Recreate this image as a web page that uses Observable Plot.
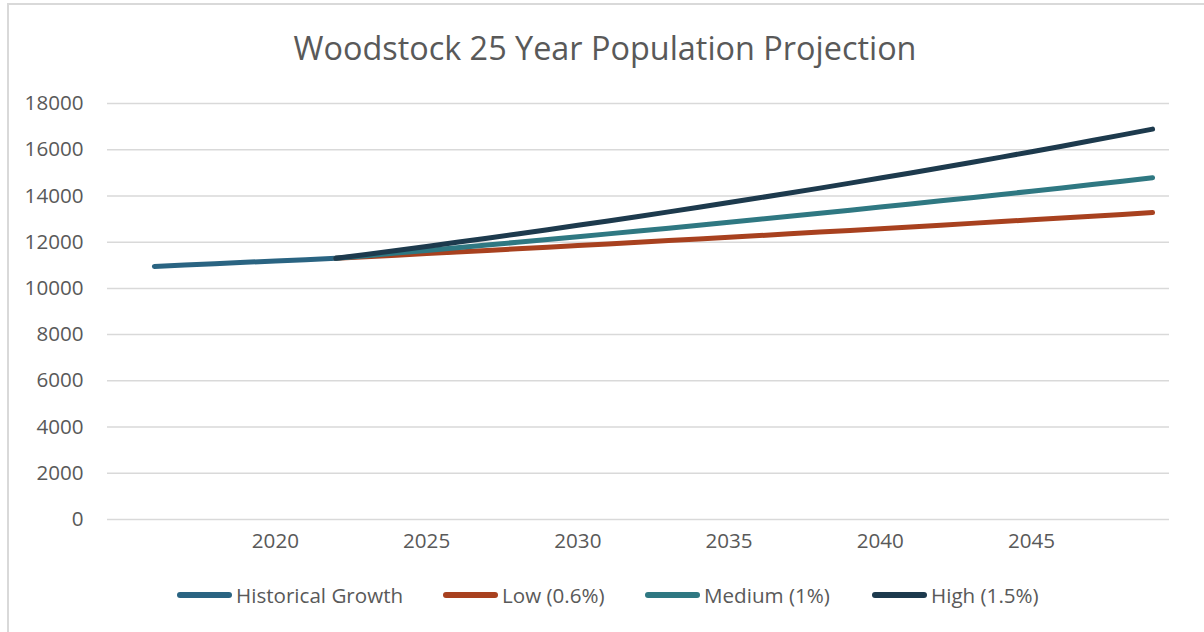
<!DOCTYPE html>
<html>
<head>
<meta charset="utf-8">
<script src="https://cdn.jsdelivr.net/npm/d3@7"></script>
<script src="https://cdn.jsdelivr.net/npm/@observablehq/plot@0.6"></script>
<style>
  html, body { margin: 0; padding: 0; background: #fff; overflow: hidden; }
  #wrap { position: relative; width: 1204px; height: 632px; overflow: hidden; font-family: "Open Sans", sans-serif; color: #595959; }
  #frame { position: absolute; left: 7px; top: 3px; width: 1400px; height: 1000px; border-left: 2px solid #d9d9d9; border-top: 2px solid #d9d9d9; box-sizing: border-box; }
  #title { position: absolute; left: 0; width: 1210px; top: 23px; text-align: center; font-size: 32.4px; line-height: 48px; white-space: nowrap; }
  #legend { position: absolute; top: 580px; left: 0; width: 1204px; height: 30px; }
  .item { position: absolute; top: 0; display: flex; align-items: center; height: 30px; font-size: 20.6px; white-space: nowrap; }
  .sw { width: 55px; height: 6px; border-radius: 3px; margin-right: 4px; }
  #chart { position: absolute; left: 0; top: 0; }
</style>
</head>
<body>
<div id="wrap">
  <div id="chart"></div>
  <div id="frame"></div>
  <div id="title">Woodstock 25 Year Population Projection</div>
  <div id="legend"></div>
</div>
<script>
const seriesNames = ["Historical Growth", "Low (0.6%)", "Medium (1%)", "High (1.5%)"];
const seriesColors = ["#2A6482", "#A8411F", "#2F7882", "#1D3A4D"];

const historicalYears = [2016, 2017, 2018, 2019, 2020, 2021, 2022];
const historical = [10950, 11010, 11070, 11130, 11180, 11240, 11300];

const projectionYears = [2022, 2023, 2024, 2025, 2026, 2027, 2028, 2029, 2030, 2031, 2032, 2033, 2034, 2035,
  2036, 2037, 2038, 2039, 2040, 2041, 2042, 2043, 2044, 2045, 2046, 2047, 2048, 2049];
const low = [11300, 11368, 11436, 11505, 11574, 11643, 11713, 11783, 11854, 11925, 11997, 12069, 12141, 12214,
  12287, 12361, 12435, 12510, 12585, 12660, 12736, 12813, 12890, 12967, 13045, 13123, 13202, 13281];
const medium = [11300, 11413, 11527, 11642, 11759, 11876, 11995, 12115, 12236, 12359, 12482, 12607, 12733, 12860,
  12989, 13119, 13250, 13383, 13517, 13652, 13788, 13926, 14065, 14206, 14348, 14491, 14636, 14783];
const high = [11300, 11470, 11641, 11816, 11993, 12173, 12356, 12541, 12729, 12920, 13114, 13311, 13510, 13713,
  13919, 14127, 14339, 14554, 14773, 14994, 15219, 15448, 15679, 15915, 16153, 16396, 16642, 16891];

const xTicks = [2020, 2025, 2030, 2035, 2040, 2045];
const yTicks = [0, 2000, 4000, 6000, 8000, 10000, 12000, 14000, 16000, 18000];

const rows = [];
historicalYears.forEach((y, i) => rows.push({series: seriesNames[0], year: y, value: historical[i]}));
[low, medium, high].forEach((arr, k) => projectionYears.forEach((y, i) => rows.push({series: seriesNames[k + 1], year: y, value: arr[i]})));

const chart = Plot.plot({
  width: 1204,
  height: 632,
  marginTop: 103,
  marginBottom: 113,
  marginLeft: 107,
  marginRight: 35,
  style: {fontFamily: "Open Sans, sans-serif", fontSize: "20.6px", color: "#595959", background: "transparent"},
  x: {domain: [2014.45, 2049.56], ticks: xTicks, tickFormat: d => String(d), tickSize: 0, tickPadding: 15, label: null},
  y: {domain: [0, 18000], ticks: yTicks, tickFormat: d => String(d), tickSize: 0, tickPadding: 24, label: null},
  color: {domain: seriesNames, range: seriesColors},
  marks: [
    Plot.gridY(yTicks, {stroke: "#d9d9d9", strokeOpacity: 1, strokeWidth: 1.5}),
    Plot.axisX({ticks: xTicks, tickFormat: d => String(d), tickSize: 0, tickPadding: 14, fill: "#595959"}),
    Plot.axisY({ticks: yTicks, tickFormat: d => String(d), tickSize: 0, tickPadding: 24, fill: "#595959"}),
    Plot.lineY(rows, {x: "year", y: "value", z: "series", stroke: "series", strokeWidth: 5, strokeLinecap: "round", strokeLinejoin: "round"})
  ]
});
document.getElementById("chart").appendChild(chart);

const legendLeft = [177, 443, 645, 872];
const legend = document.getElementById("legend");
seriesNames.forEach((name, i) => {
  const item = document.createElement("div");
  item.className = "item";
  item.style.left = legendLeft[i] + "px";
  const sw = document.createElement("div");
  sw.className = "sw";
  sw.style.background = seriesColors[i];
  const t = document.createElement("span");
  t.textContent = name;
  item.appendChild(sw);
  item.appendChild(t);
  legend.appendChild(item);
});
</script>
</body>
</html>
